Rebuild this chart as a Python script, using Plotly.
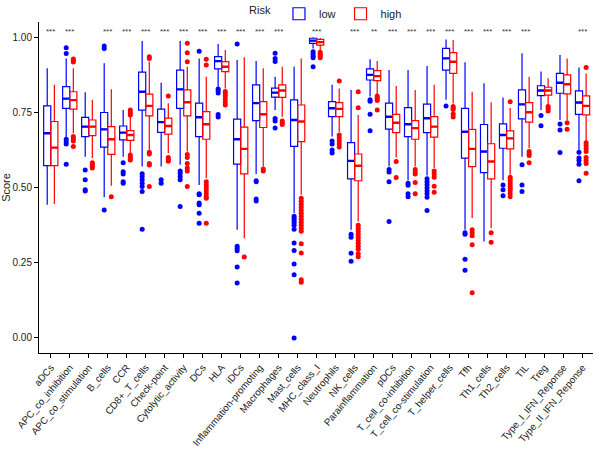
import plotly.graph_objects as go

categories = ["aDCs", "APC_co_inhibition", "APC_co_stimulation", "B_cells", "CCR",
              "CD8+_T_cells", "Check-point", "Cytolytic_activity", "DCs", "HLA", "iDCs",
              "Inflammation-promoting", "Macrophages", "Mast_cells", "MHC_class_I",
              "Neutrophils", "NK_cells", "Parainflammation", "pDCs", "T_cell_co-inhibition",
              "T_cell_co-stimulation", "T_helper_cells", "Tfh", "Th1_cells", "Th2_cells",
              "TIL", "Treg", "Type_I_IFN_Reponse", "Type_II_IFN_Reponse"]

significance = ["***", "***", "", "***", "***", "***", "***", "***", "***", "***", "***",
                "***", "***", "", "***", "", "***", "**", "***", "***", "***", "***", "***",
                "***", "***", "***", "", "", "***"]

# low-risk group: lower whisker, Q1, median, Q3, upper whisker
low_lw = [0.443, 0.665, 0.603, 0.468, 0.603, 0.570, 0.570, 0.576, 0.509, 0.836, 0.360,
          0.545, 0.758, 0.416, 0.963, 0.670, 0.360, 0.803, 0.570, 0.525, 0.540, 0.792,
          0.360, 0.321, 0.525, 0.603, 0.758, 0.725, 0.626]
low_q1 = [0.573, 0.764, 0.670, 0.635, 0.659, 0.758, 0.684, 0.764, 0.670, 0.895, 0.578,
          0.723, 0.801, 0.637, 0.980, 0.736, 0.529, 0.858, 0.695, 0.670, 0.683, 0.891,
          0.598, 0.550, 0.631, 0.729, 0.806, 0.814, 0.744]
low_med = [0.681, 0.796, 0.703, 0.694, 0.683, 0.819, 0.718, 0.827, 0.734, 0.921, 0.661,
           0.781, 0.816, 0.725, 0.989, 0.764, 0.589, 0.875, 0.736, 0.711, 0.731, 0.930,
           0.686, 0.620, 0.675, 0.777, 0.823, 0.849, 0.783]
low_q3 = [0.772, 0.836, 0.734, 0.750, 0.705, 0.884, 0.761, 0.891, 0.781, 0.936, 0.728,
          0.842, 0.831, 0.792, 0.997, 0.786, 0.650, 0.895, 0.781, 0.766, 0.778, 0.963,
          0.764, 0.710, 0.712, 0.825, 0.839, 0.880, 0.822]
low_uw = [0.897, 0.930, 0.817, 0.914, 0.758, 0.988, 0.849, 0.988, 0.930, 0.978, 0.925,
          0.921, 0.869, 0.902, 1.000, 0.842, 0.825, 0.927, 0.891, 0.891, 0.905, 0.993,
          0.917, 0.847, 0.800, 0.947, 0.886, 0.941, 0.900]
low_out = [
    [],
    [0.965, 0.946, 0.661, 0.653, 0.645, 0.578],
    [0.559, 0.526, 0.493, 0.489],
    [0.971, 0.963, 0.426],
    [0.583, 0.553, 0.545, 0.520, 0.515],
    [0.546, 0.537, 0.526, 0.515, 0.504, 0.487, 0.362],
    [0.526, 0.515],
    [0.555, 0.547, 0.537, 0.526, 0.437],
    [0.954, 0.480, 0.476, 0.449, 0.443, 0.415, 0.382],
    [0.828, 0.822, 0.815, 0.743, 0.735],
    [0.978, 0.305, 0.298, 0.290, 0.236, 0.183],
    [0.523, 0.520, 0.462, 0.456],
    [0.947, 0.930, 0.920, 0.730, 0.722, 0.698],
    [0.405, 0.398, 0.390, 0.383, 0.375, 0.362, 0.316, 0.291, 0.246, 0.210, 0.0],
    [0.952, 0.945, 0.938, 0.932, 0.902],
    [0.655, 0.645, 0.625, 0.615],
    [0.345, 0.335, 0.282, 0.255],
    [0.792, 0.787, 0.744, 0.689],
    [0.560, 0.552, 0.520, 0.387],
    [0.515, 0.508, 0.480, 0.470],
    [0.530, 0.520, 0.510, 0.500, 0.490, 0.480, 0.468, 0.424],
    [0.772],
    [0.350, 0.345, 0.262, 0.225],
    [],
    [0.509, 0.493, 0.473],
    [0.576, 0.509, 0.487],
    [0.740, 0.706],
    [0.712, 0.692, 0.617],
    [0.618, 0.599, 0.590, 0.578, 0.523],
]

# high-risk group
high_lw = [0.446, 0.681, 0.599, 0.506, 0.615, 0.626, 0.615, 0.620, 0.532, 0.830, 0.332,
           0.570, 0.736, 0.476, 0.957, 0.685, 0.387, 0.811, 0.600, 0.570, 0.565, 0.780,
           0.399, 0.365, 0.543, 0.631, 0.775, 0.725, 0.653]
high_q1 = [0.573, 0.761, 0.673, 0.611, 0.657, 0.739, 0.678, 0.739, 0.661, 0.886, 0.546,
           0.700, 0.800, 0.653, 0.974, 0.736, 0.523, 0.856, 0.683, 0.661, 0.668, 0.880,
           0.570, 0.529, 0.629, 0.718, 0.808, 0.812, 0.742]
high_med = [0.633, 0.791, 0.703, 0.661, 0.675, 0.772, 0.705, 0.784, 0.711, 0.902, 0.629,
            0.744, 0.823, 0.720, 0.984, 0.762, 0.573, 0.871, 0.716, 0.698, 0.703, 0.919,
            0.629, 0.587, 0.664, 0.751, 0.823, 0.844, 0.772]
high_q3 = [0.720, 0.819, 0.725, 0.703, 0.690, 0.811, 0.731, 0.825, 0.753, 0.919, 0.701,
           0.786, 0.842, 0.775, 0.993, 0.783, 0.612, 0.889, 0.744, 0.723, 0.736, 0.949,
           0.694, 0.646, 0.689, 0.783, 0.834, 0.875, 0.805]
high_uw = [0.842, 0.897, 0.792, 0.827, 0.736, 0.920, 0.781, 0.902, 0.869, 0.958, 0.934,
           0.897, 0.902, 0.930, 0.998, 0.830, 0.742, 0.921, 0.838, 0.825, 0.842, 0.991,
           0.819, 0.784, 0.765, 0.869, 0.864, 0.930, 0.880]
high_out = [
    [],
    [0.928, 0.924, 0.918, 0.670, 0.662, 0.655, 0.637],
    [0.583, 0.577, 0.571, 0.565],
    [0.470],
    [0.758, 0.750, 0.742, 0.609, 0.602, 0.596, 0.592],
    [0.935, 0.930, 0.618, 0.612, 0.580, 0.575, 0.504],
    [0.805, 0.600, 0.594, 0.588],
    [0.980, 0.949, 0.919, 0.610, 0.600, 0.580, 0.565, 0.555, 0.504],
    [0.927, 0.908, 0.520, 0.510, 0.500, 0.490, 0.480, 0.470, 0.465, 0.382],
    [0.820, 0.812, 0.805, 0.795, 0.785, 0.775],
    [0.269],
    [0.562, 0.555],
    [0.722, 0.716, 0.710],
    [0.465, 0.455, 0.445, 0.435, 0.425, 0.415, 0.405, 0.395, 0.385, 0.375, 0.365, 0.355,
     0.313, 0.283, 0.194, 0.185],
    [0.950, 0.944, 0.938, 0.932],
    [0.855, 0.675, 0.665, 0.655, 0.645, 0.635],
    [0.819, 0.766, 0.375, 0.365, 0.355, 0.345, 0.335, 0.325, 0.315, 0.305, 0.295, 0.280, 0.270],
    [0.805, 0.800, 0.795, 0.790, 0.758],
    [0.587, 0.534],
    [0.560, 0.552, 0.545, 0.517, 0.480],
    [0.555, 0.545, 0.535, 0.505, 0.485],
    [0.770, 0.765, 0.760, 0.745, 0.735],
    [0.360, 0.350, 0.340, 0.310, 0.150],
    [0.350, 0.318],
    [0.786, 0.535, 0.527, 0.520, 0.512, 0.505, 0.497, 0.490, 0.480, 0.470],
    [0.620, 0.613, 0.607, 0.583],
    [0.770, 0.763, 0.755],
    [0.716, 0.694],
    [0.900, 0.649, 0.640, 0.630, 0.620, 0.600, 0.590, 0.580, 0.548],
]

y_ticks = [0.0, 0.25, 0.5, 0.75, 1.0]
y_tick_text = ["0.00", "0.25", "0.50", "0.75", "1.00"]

FONT = "Liberation Sans, Arial, sans-serif"

fig = go.Figure()
series = [
    ("low", "#0000FF", low_lw, low_q1, low_med, low_q3, low_uw, low_out),
    ("high", "#FF0000", high_lw, high_q1, high_med, high_q3, high_uw, high_out),
]
for name, color, lw, q1, med, q3, uw, out in series:
    fig.add_trace(go.Box(
        name=name, x=categories,
        q1=q1, median=med, q3=q3, lowerfence=lw, upperfence=uw,
        boxpoints=False,
        line=dict(color=color, width=1.2),
        fillcolor="rgba(255,255,255,0)",
        whiskerwidth=0, offsetgroup=name, legendgroup=name,
        hoverinfo="skip",
    ))
    # thicker median segment, as in ggplot boxplots
    fig.add_trace(go.Box(
        name=name, x=categories,
        q1=med, median=med, q3=med, lowerfence=med, upperfence=med,
        boxpoints=False, showlegend=False,
        line=dict(color=color, width=2.4),
        fillcolor="rgba(255,255,255,0)",
        whiskerwidth=0, offsetgroup=name, legendgroup=name,
        hoverinfo="skip",
    ))
for name, color, lw, q1, med, q3, uw, out in series:
    px, py = [], []
    for cat, vals in zip(categories, out):
        for v in vals:
            px.append(cat)
            py.append(v)
    fig.add_trace(go.Scatter(
        x=px, y=py, mode="markers", name=name, showlegend=False,
        offsetgroup=name, legendgroup=name,
        marker=dict(color=color, size=5, line=dict(width=0)),
    ))

for cat, sig in zip(categories, significance):
    if sig:
        fig.add_annotation(x=cat, y=1.02, text=sig, showarrow=False,
                           font=dict(size=8, color="#333333", family=FONT),
                           yanchor="middle")

fig.update_layout(
    width=600, height=450,
    boxmode="group", boxgap=0.25, boxgroupgap=0,
    scattermode="group", scattergap=0.25,
    plot_bgcolor="white", paper_bgcolor="white",
    margin=dict(l=39, r=7, t=22, b=97, autoexpand=False),
    font=dict(family=FONT, color="#333333"),
    legend=dict(orientation="h", x=0.52, xanchor="center", y=1.025, yanchor="middle",
                title=dict(text="Risk", side="left", font=dict(size=11, color="#222222")),
                font=dict(size=11, color="#222222"), bgcolor="rgba(0,0,0,0)",
                itemwidth=30),
    xaxis=dict(type="category", categoryorder="array", categoryarray=categories,
               range=[-0.62, 28.55], showline=True, linecolor="black",
               linewidth=1, ticks="outside", ticklen=4, tickcolor="black", tickangle=-50,
               tickfont=dict(size=9.8, color="#222222"), showgrid=False, zeroline=False),
    yaxis=dict(range=[-0.05, 1.051], tickvals=y_ticks, ticktext=y_tick_text,
               showline=True, linecolor="black", linewidth=1, ticks="outside",
               ticklen=4, tickcolor="black", tickfont=dict(size=10, color="#222222"),
               showgrid=False, zeroline=False,
               title=dict(text="Score", font=dict(size=11, color="#222222"), standoff=3)),
)

fig.write_html("out.html", config={"displayModeBar": False},
               post_script="document.body.style.margin='0px';")
